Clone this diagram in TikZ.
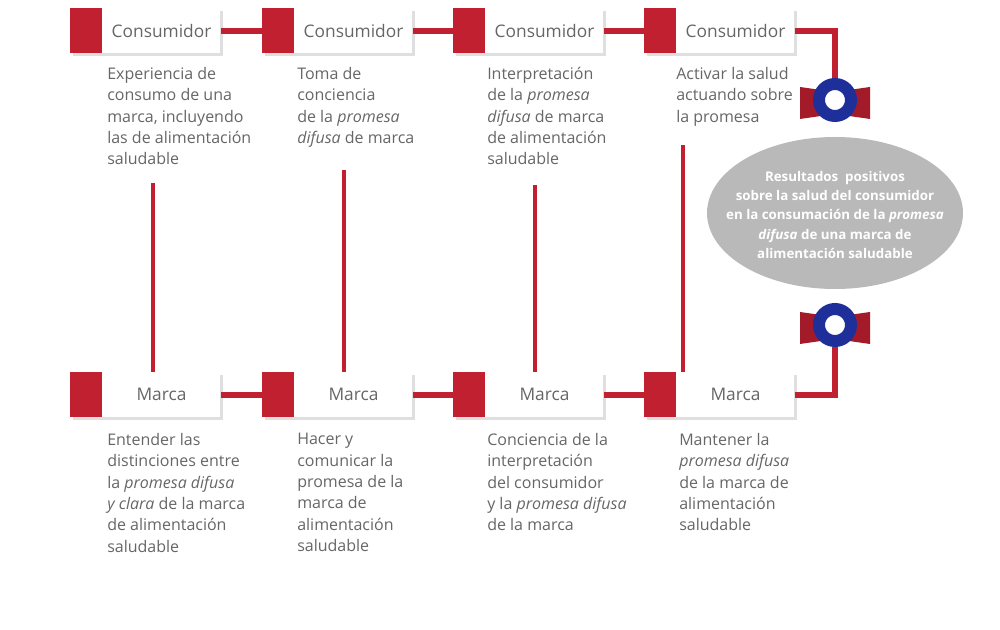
\documentclass[tikz,border=0pt]{standalone}
\usepackage{fontspec}
\setmainfont{Open Sans}
\usetikzlibrary{positioning,shadows,shapes.geometric,calc}
\definecolor{brandred}{HTML}{C0202F}
\definecolor{ringblue}{HTML}{1F2F9A}
\definecolor{txtgray}{HTML}{666666}
\tikzset{
  box/.style={draw=none, fill=white, minimum width=112.5pt, minimum height=33.75pt,
    inner sep=0pt, drop shadow={shadow xshift=2pt, shadow yshift=-2pt, opacity=0.25}},
  tab/.style={fill=brandred, minimum width=24pt, minimum height=33.75pt, inner sep=0pt},
  lbl/.style={text=txtgray, font=\fontsize{13}{16}\selectfont},
  desc/.style={text=txtgray, font=\fontsize{12}{16}\selectfont, align=left, anchor=north west, inner sep=0pt},
  link/.style={draw=brandred, line width=4.5pt},
}
\begin{document}
\begin{tikzpicture}[x=0.75pt, y=-0.75pt]
  \useasboundingbox (0,0) rectangle (1000,630);
  \foreach \col/\xx in {1/70, 2/262, 3/453, 4/644} {
    % top and bottom boxes
    \node[box, anchor=north west] (c\col) at (\xx,8) {};
    \node[tab, anchor=north west] (ct\col) at (\xx,8) {};
    \node[lbl] at ($(ct\col.east)!0.5!(c\col.east)$) {Consumidor};
    \node[box, anchor=north west] (m\col) at (\xx,372) {};
    \node[tab, anchor=north west] (mt\col) at (\xx,372) {};
    \node[lbl] at ($(mt\col.east)!0.5!(m\col.east)$) {Marca};
  }
  % links between boxes
  \foreach \a/\b in {1/2, 2/3, 3/4} {
    \draw[link] (c\a.east) -- (ct\b.west);
    \draw[link] (m\a.east) -- (mt\b.west);
  }
  % vertical connectors
  \coordinate (v1) at (153,183);
  \coordinate (v2) at (344,170);
  \coordinate (v3) at (535,185);
  \coordinate (v4) at (683,145);
  \foreach \col in {1,...,4} {
    \draw[link, line width=3.5pt] (v\col) -- (v\col |- m\col.north);
  }

  % descriptions
  \node[desc] at (107,67) {Experiencia de\\consumo de una\\marca, incluyendo\\las de alimentación\\saludable};
  \node[desc] at (297,67) {Toma de\\conciencia\\de la \textit{promesa}\\\textit{difusa} de marca};
  \node[desc] at (487,67) {Interpretación\\de la \textit{promesa}\\\textit{difusa} de marca\\de alimentación\\saludable};
  \node[desc] at (676,67) {Activar la salud\\actuando sobre\\la promesa};
  \node[desc] at (107,433) {Entender las\\distinciones entre\\la \textit{promesa difusa}\\\textit{y clara} de la marca\\de alimentación\\saludable};
  \node[desc] at (297,433) {Hacer y\\comunicar la\\promesa de la\\marca de\\alimentación\\saludable};
  \node[desc] at (487,433) {Conciencia de la\\interpretación\\del consumidor\\y la \textit{promesa difusa}\\de la marca};
  \node[desc] at (679,433) {Mantener la\\\textit{promesa difusa}\\de la marca de\\alimentación\\saludable};

  % result ellipse and rings
  \fill[gray!55] (835,213) ellipse [x radius=128, y radius=76];
  \node[text=white, align=center, font=\bfseries\fontsize{10}{14.5}\selectfont] (res) at (835,215)
    {Resultados\ \ positivos\\sobre la salud del consumidor\\en la consumación de la \textit{promesa}\\\textit{difusa} de una marca de\\alimentación saludable};
  \foreach \r/\yy in {ra/100, rb/325} {
    \fill[brandred!85!black] (800,\yy-13) -- (835,\yy-8) -- (870,\yy-13) -- (870,\yy+19) -- (835,\yy+14) -- (800,\yy+19) -- cycle;
    \node[circle, draw=ringblue, line width=9pt, fill=white, minimum size=24pt, inner sep=0pt] (\r) at (835,\yy) {};
  }
  \draw[link] (c4.east) -| (ra.north);
  \draw[link] (m4.east) -| (rb.south);
\end{tikzpicture}
\end{document}
